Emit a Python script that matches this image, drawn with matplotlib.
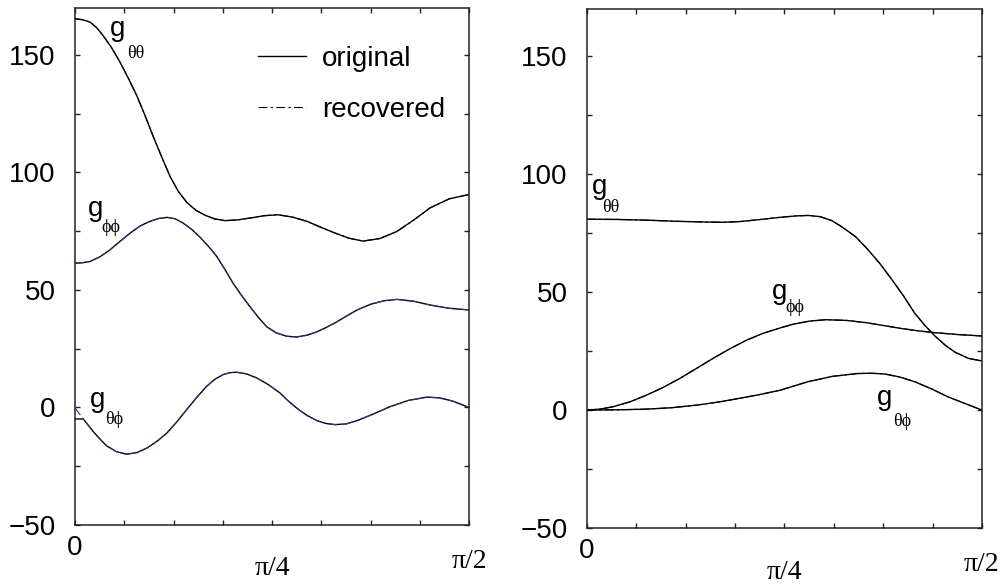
import numpy as np
import matplotlib
matplotlib.use("Agg")
import matplotlib.pyplot as plt
from matplotlib.lines import Line2D

# x is given as a fraction of pi/2.
HALF_PI = np.pi / 2

# left panel
x_tt_left = [0, 0.019, 0.038, 0.055, 0.071, 0.092, 0.114, 0.135, 0.157, 0.178,
             0.198, 0.220, 0.241, 0.262, 0.284, 0.307, 0.330, 0.355, 0.381,
             0.412, 0.444, 0.480, 0.515, 0.552, 0.589, 0.625, 0.660, 0.696,
             0.731, 0.774, 0.817, 0.860, 0.901, 0.950, 1.0]
g_tt_left = [165.4, 165.0, 164.0, 161.6, 158.3, 153.3, 147.0, 140.2, 132.6, 124.1,
             115.5, 106.6, 98.4, 92.0, 87.2, 83.9, 81.8, 80.2, 79.5,
             79.8, 80.6, 81.6, 82.0, 81.0, 79.2, 76.6, 74.2, 72.0,
             70.8, 71.9, 74.9, 79.8, 84.9, 88.8, 90.6]

x_pp_left = [0, 0.019, 0.038, 0.064, 0.089, 0.115, 0.140, 0.165, 0.190, 0.212,
             0.234, 0.254, 0.274, 0.296, 0.317, 0.339, 0.360, 0.381, 0.401,
             0.423, 0.444, 0.466, 0.487, 0.510, 0.537, 0.563, 0.590, 0.614,
             0.637, 0.660, 0.688, 0.716, 0.750, 0.784, 0.817, 0.860, 0.901,
             0.950, 1.0]
g_pp_left = [61.4, 61.6, 62.1, 64.2, 67.1, 70.8, 74.2, 77.2, 79.2, 80.4,
             80.9, 80.3, 78.5, 75.8, 72.5, 68.5, 64.2, 58.6, 52.9,
             47.6, 42.9, 38.2, 34.3, 31.8, 30.3, 30.0, 30.8, 32.2,
             34.0, 36.0, 38.8, 41.5, 43.9, 45.4, 46.0, 45.2, 43.6,
             42.2, 41.5]

x_tp_left = [0, 0.021, 0.046, 0.063, 0.080, 0.105, 0.131, 0.157, 0.182, 0.208,
             0.233, 0.258, 0.283, 0.309, 0.334, 0.355, 0.376, 0.393, 0.410,
             0.435, 0.461, 0.490, 0.520, 0.541, 0.563, 0.588, 0.614, 0.637,
             0.660, 0.688, 0.716, 0.757, 0.799, 0.846, 0.893, 0.925, 0.959,
             1.0]
g_tp_left = [-4.9, -4.9, -10.2, -13.4, -16.3, -18.8, -19.9, -19.2, -17.3, -14.4,
             -10.9, -6.2, -1.0, 4.3, 9.0, 12.0, 14.0, 14.8, 15.0,
             14.3, 12.6, 9.8, 6.2, 2.8, -0.3, -3.3, -5.6, -6.8,
             -7.3, -7.0, -5.6, -2.8, 0.3, 3.0, 4.4, 4.1, 2.7,
             0.0]
g_tp_left_rec = [-0.2] + g_tp_left[1:]

# right panel
x_tt_right = [0, 0.076, 0.152, 0.228, 0.304, 0.345, 0.387, 0.440, 0.489, 0.530,
              0.559, 0.590, 0.620, 0.646, 0.680, 0.711, 0.742, 0.772, 0.801,
              0.830, 0.856, 0.881, 0.907, 0.932, 0.966, 1.0]
g_tt_right = [80.9, 80.8, 80.5, 80.0, 79.7, 79.6, 79.9, 80.8, 81.7, 82.3,
              82.5, 82.0, 80.3, 77.6, 73.5, 68.1, 62.0, 55.3, 48.5,
              41.0, 35.8, 31.4, 27.5, 24.5, 21.9, 20.8]

x_pp_right = [0, 0.033, 0.066, 0.109, 0.152, 0.194, 0.235, 0.277, 0.319, 0.362,
              0.405, 0.447, 0.489, 0.522, 0.563, 0.605, 0.657, 0.709, 0.752,
              0.795, 0.838, 0.881, 0.940, 1.0]
g_pp_right = [0.0, 0.4, 1.4, 3.5, 6.4, 9.7, 13.4, 17.6, 21.9, 26.0,
              29.7, 32.6, 34.8, 36.4, 37.7, 38.3, 38.0, 37.0, 35.8,
              34.6, 33.6, 32.8, 32.0, 31.4]

x_tp_right = [0, 0.076, 0.152, 0.215, 0.278, 0.333, 0.387, 0.438, 0.489, 0.524,
              0.559, 0.622, 0.686, 0.720, 0.754, 0.792, 0.830, 0.872, 0.914,
              0.957, 1.0]
g_tp_right = [0.0, 0.1, 0.4, 1.0, 2.1, 3.4, 5.0, 6.6, 8.4, 10.2,
              12.0, 14.3, 15.5, 15.6, 15.3, 14.0, 12.0, 9.0, 5.6,
              2.8, 0.0]

SANS = "Liberation Sans"
SERIF = ["Liberation Serif", "DejaVu Serif"]
DASHDOT = (0, (8, 3, 2, 3))

fig = plt.figure(figsize=(10.03, 5.85), dpi=100)
ax1 = fig.add_axes([0.0748, 0.1026, 0.3928, 0.8838])
ax2 = fig.add_axes([0.5852, 0.0974, 0.3938, 0.8872])


def setup(ax):
    ax.set_xlim(0, HALF_PI)
    ax.set_ylim(-50, 170)
    ax.set_xticks(np.linspace(0, HALF_PI, 9))
    ax.set_xticklabels([])
    ax.set_yticks([-50, 0, 50, 100, 150])
    ax.set_yticks([-25, 25, 75, 125], minor=True)
    ax.tick_params(which="both", direction="in", top=True, right=True,
                   length=3.8, width=1.0, color="#222222")
    ax.tick_params(axis="y", labelsize=20, pad=14)
    for lab in ax.get_yticklabels():
        lab.set_fontfamily(SANS)
    for s in ax.spines.values():
        s.set_linewidth(1.1)
        s.set_color("#222222")
    # pi tick labels, staggered like the original
    tr = ax.get_xaxis_transform()
    ax.text(0, -0.045, "0", transform=tr, ha="center", va="center",
            fontsize=20, family=SANS)
    ax.text(np.pi / 4, -0.085, "\u03c0/4", transform=tr, ha="center",
            va="center", fontsize=20, family=SERIF)
    ax.text(HALF_PI, -0.070, "\u03c0/2", transform=tr, ha="center",
            va="center", fontsize=20, family=SERIF)


def label(ax, xg, yg, xs, ys, sub):
    ax.text(xg, yg, "g", fontsize=20, family=SANS, va="baseline")
    ax.text(xs, ys, sub, fontsize=13, family=SERIF, va="baseline")


def px(frac):
    return np.array(frac) * HALF_PI


# left panel
setup(ax1)
rec_left = "#4b2d83"
ax1.plot(px(x_tt_left), g_tt_left, color="black", lw=1.0)
ax1.plot(px(x_tt_left), g_tt_left, color="black", lw=0.8, ls=DASHDOT)
ax1.plot(px(x_pp_left), g_pp_left, color="black", lw=1.0)
ax1.plot(px(x_pp_left), g_pp_left, color=rec_left, lw=0.8, ls=DASHDOT)
ax1.plot(px(x_tp_left), g_tp_left, color="black", lw=1.0)
ax1.plot(px(x_tp_left), g_tp_left_rec, color=rec_left, lw=0.8, ls=DASHDOT)

label(ax1, 0.1395, 158.1, 0.2073, 148.7, "\u03b8\u03b8")
label(ax1, 0.0518, 81.3, 0.1037, 74.5, "\u03d5\u03d5")
label(ax1, 0.0598, 0.3, 0.1196, -6.9, "\u03b8\u03d5")

handles = [Line2D([], [], color="black", lw=1.0),
           Line2D([], [], color="black", lw=0.8, ls=DASHDOT)]
ax1.legend(handles, ["original", "recovered"], loc="upper left",
           bbox_to_anchor=(0.464, 0.926), frameon=False, borderpad=0,
           borderaxespad=0, handlelength=1.73, handletextpad=0.58,
           labelspacing=0.88, prop={"family": SANS, "size": 20})

# right panel
setup(ax2)
ax2.plot(px(x_tt_right), g_tt_right, color="black", lw=1.0)
ax2.plot(px(x_tt_right), g_tt_right, color="black", lw=0.8, ls=DASHDOT)
ax2.plot(px(x_pp_right), g_pp_right, color="black", lw=1.0)
ax2.plot(px(x_pp_right), g_pp_right, color="black", lw=0.8, ls=DASHDOT)
ax2.plot(px(x_tp_right), g_tp_right, color="black", lw=1.0)
ax2.plot(px(x_tp_right), g_tp_right, color="black", lw=0.8, ls=DASHDOT)

label(ax2, 0.0199, 91.4, 0.0597, 83.8, "\u03b8\u03b8")
label(ax2, 0.7357, 47.2, 0.7874, 41.7, "\u03d5\u03d5")
label(ax2, 1.1532, 2.2, 1.2169, -6.7, "\u03b8\u03d5")

fig.savefig("out.png", dpi=100)
